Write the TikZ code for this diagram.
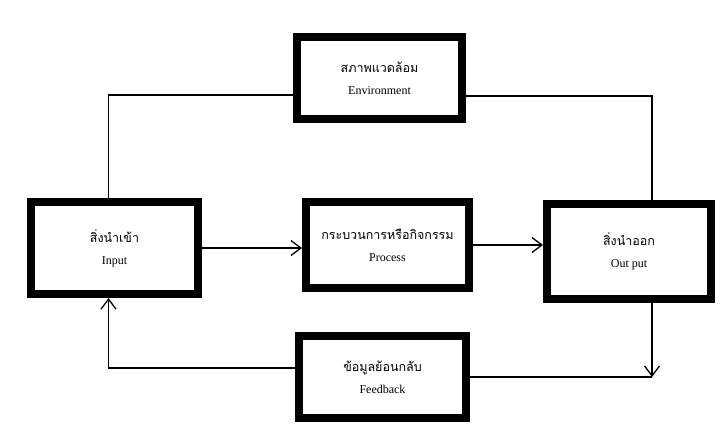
\documentclass[tikz,border=0pt]{standalone}
\usepackage{fontspec}
\setmainfont{Liberation Serif}
\newfontfamily\thaifont[Script=Thai]{Loma}
\usepackage{tikz}
\usetikzlibrary{arrows,arrows.meta,calc}
\newcommand{\thaiEng}[2]{{\thaifont\fontsize{12.5}{15}\selectfont #1}\\[10pt]{\fontsize{12}{14}\selectfont #2}}
\tikzset{
	blok/.style={draw,line width=8pt,align=center,inner sep=0pt},
	lijn/.style={line width=1.3pt,>={Straight Barb[length=10pt,width=15pt,line width=1.3pt]}}
}

\begin{document}
\begin{tikzpicture}[x=1pt,y=-1pt]
		\useasboundingbox (0,0) rectangle (721,431);
		\node[blok,minimum width=165,minimum height=82] (env) at (379.5,78) {\thaiEng{สภาพแวดล้อม}{Environment}};
		\node[blok,minimum width=167,minimum height=92] (in) at (114.5,248) {\thaiEng{สิ่งนำเข้า}{Input}};
		\node[blok,minimum width=163,minimum height=86] (proc) at (387.5,245) {\thaiEng{กระบวนการหรือกิจกรรม}{Process}};
		\node[blok,minimum width=164,minimum height=95] (out) at (629,251.5) {\thaiEng{สิ่งนำออก}{Out put}};
		\node[blok,minimum width=167,minimum height=82] (fb) at (382.5,377) {\thaiEng{ข้อมูลย้อนกลับ}{Feedback}};
		\coordinate (envL) at ($(env.west)+(0,17)$);
		\coordinate (envR) at ($(env.east)+(0,18)$);
		\coordinate (fbL) at ($(fb.west)+(0,-9)$);
		\coordinate (fbR) at ($(fb.east)+(182,0)$);
		\coordinate (inT) at ($(in.north)+(-6,0)$);
		\coordinate (inB) at ($(in.south)+(-6,0)$);
		\draw[lijn] (inT) |- (envL);
		\draw[lijn] (envR) -| (out.north -| fbR);
		\draw[lijn,->] (in.east) -- (in.east -| proc.west);
		\draw[lijn,->] (proc.east) -- (proc.east -| out.west);
		\draw[lijn,->] (out.south -| fbR) -- (fbR);
		\draw[lijn] (fb.east) -- (fbR);
		\draw[lijn,->] (fbL) -| (inB);
	\end{tikzpicture}
\end{document}
